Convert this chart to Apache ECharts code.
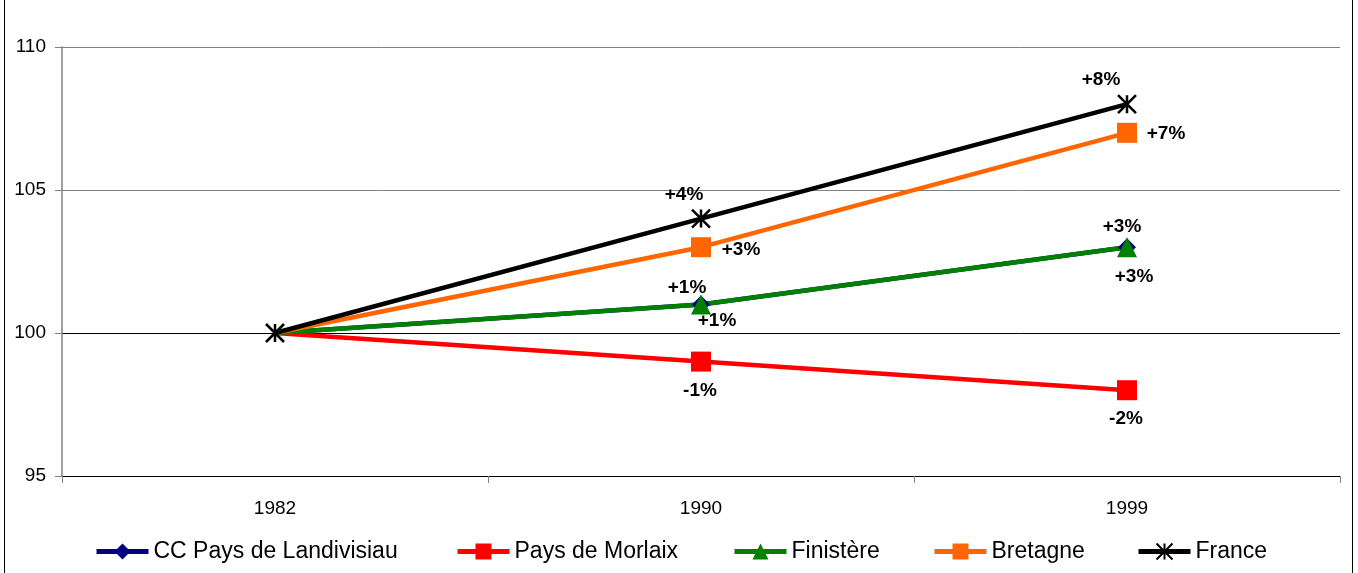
<!DOCTYPE html>
<html><head><meta charset="utf-8">
<script src="https://cdn.jsdelivr.net/npm/echarts@6/dist/echarts.min.js"></script>
<style>
html,body{margin:0;padding:0;background:#fff;}
#frame{position:absolute;left:4px;top:-2px;width:1349px;height:580px;border:1px solid #000;box-sizing:border-box;}
#c{position:absolute;left:0;top:0;width:1358px;height:573px;}
</style></head>
<body>
<div id="frame"></div>
<div id="c"></div>
<script>
var categories = ['1982', '1990', '1999'];
var landivisiau = [100, 101, 103];
var morlaix = [100, 99, 98];
var finistere = [100, 101, 103];
var bretagne = [100, 103, 107];
var france = [100, 104, 108];
var yTicks = [95, 100, 105, 110];
var seriesNames = ['CC Pays de Landivisiau', 'Pays de Morlaix', 'Finistère', 'Bretagne', 'France'];

var chart = echarts.init(document.getElementById('c'));
var asterisk = 'path://M0,0L10,10M10,0L0,10M5,0L5,10';
var FONT = 'Liberation Sans, Arial, sans-serif';

function pct(p) {
  if (p.dataIndex === 0) return '';
  var v = Math.round(p.value - 100);
  return (v > 0 ? '+' : '') + v + '%';
}
function mk(name, data, color, symbol, size, offsets) {
  return {
    name: name, type: 'line', data: data.map(function (v, i) {
      var d = { value: v };
      if (i === 0 && name !== 'France') d.symbol = 'none';
      if (i > 0) d.label = { show: true, offset: offsets[i - 1] };
      return d;
    }),
    symbol: symbol, symbolSize: size, showAllSymbol: true,
    lineStyle: { color: color, width: 4.5 },
    itemStyle: name === 'France' ? { color: 'rgba(0,0,0,0)', borderColor: '#000', borderWidth: 2.5 } : { color: color },
    label: { position: 'inside', formatter: pct, color: '#000', fontWeight: 'bold', fontSize: 19, fontFamily: FONT },
    emphasis: { disabled: true }, animation: false
  };
}

var legendLefts = [89, 450, 727, 927, 1131];
var legends = seriesNames.map(function (n, i) {
  return {
    left: legendLefts[i], top: 535, itemWidth: 52, itemHeight: 20, itemGap: 0,
    lineStyle: { width: 5 },
    textStyle: { color: '#000', fontSize: 23, fontFamily: FONT },
    data: [n], selectedMode: false
  };
});

chart.setOption({
  animation: false,
  grid: { left: 62, right: 18, top: 47, bottom: 97 },
  xAxis: {
    type: 'category', data: categories, boundaryGap: true,
    axisLine: { lineStyle: { color: '#000', width: 1 } },
    axisTick: { show: true, length: 7, lineStyle: { color: '#808080' } },
    axisLabel: { color: '#000', fontSize: 19, fontFamily: FONT, margin: 23 }
  },
  yAxis: {
    type: 'value', min: yTicks[0], max: yTicks[yTicks.length - 1], interval: 5,
    axisLine: { show: true, lineStyle: { color: '#808080', width: 1.5 } },
    axisTick: { show: true, length: 7, lineStyle: { color: '#808080' } },
    axisLabel: { color: '#000', fontSize: 19, fontFamily: FONT, margin: 16 },
    splitLine: { show: true, lineStyle: { color: ['#000', '#000', '#808080', '#808080'], width: 1 } }
  },
  legend: legends,
  series: [
    mk(seriesNames[0], landivisiau, '#000080', 'diamond', 18, [[-14, -17], [-5, -20]]),
    mk(seriesNames[1], morlaix, '#FF0000', 'rect', 20, [[-1, 29], [-1, 29]]),
    mk(seriesNames[2], finistere, '#008000', 'triangle', 20, [[16, 16], [7, 30]]),
    mk(seriesNames[3], bretagne, '#FF6600', 'rect', 20, [[40, 3], [39, 1]]),
    mk(seriesNames[4], france, '#000000', asterisk, 18, [[-17, -24], [-26, -24]])
  ]
});
</script>
</body></html>
